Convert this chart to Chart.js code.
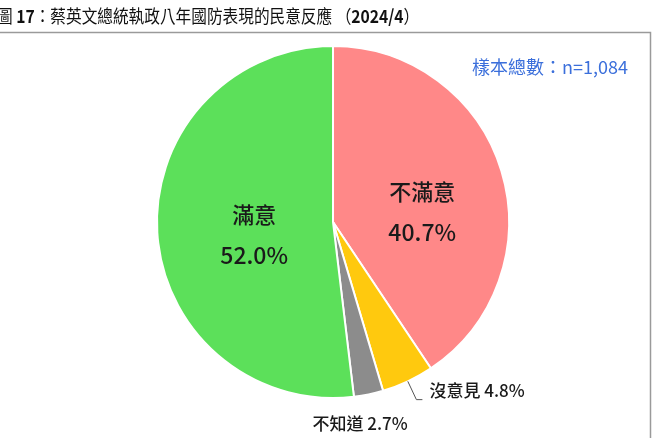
<!DOCTYPE html>
<html><head><meta charset="utf-8">
<script src="https://cdn.jsdelivr.net/npm/chart.js@4.4.0/dist/chart.umd.min.js"></script>
<style>html,body{margin:0;padding:0;background:#fff;}canvas{display:block;}</style>
</head><body>
<canvas id="c" width="656" height="438"></canvas>
<script>
const categories = ['不滿意', '沒意見', '不知道', '滿意'];
const values = [40.7, 4.8, 2.7, 52.0];
const colors = ['#FF8888', '#FFC90E', '#8C8C8C', '#5CE05A'];
const titleParts = [['圖 ', false], ['17', true], ['：蔡英文總統執政八年國防表現的民意反應 （', false], ['2024/4', true], ['）', false]];
const sampleText = '樣本總數：n=1,084';
const FONT = '"Noto Sans CJK TC","Noto Sans",sans-serif';

const decor = {
  id: 'decor',
  beforeDraw(chart) {
    const ctx = chart.ctx;
    ctx.save();
    ctx.fillStyle = '#fff';
    ctx.fillRect(0, 0, chart.width, chart.height);
    ctx.strokeStyle = '#9a9a9a';
    ctx.lineWidth = 1.5;
    ctx.beginPath();
    ctx.moveTo(0, 32.5); ctx.lineTo(650.5, 32.5); ctx.lineTo(650.5, 438);
    ctx.stroke();
    ctx.save();
    ctx.translate(-3, 16);
    ctx.scale(0.87, 1);
    let x = 0;
    ctx.fillStyle = '#111';
    ctx.textBaseline = 'middle';
    for (const [t, b] of titleParts) {
      ctx.font = (b ? 'bold ' : '') + '18px ' + FONT;
      ctx.fillText(t, x, 0);
      x += ctx.measureText(t).width;
    }
    ctx.restore();
    ctx.font = '18px ' + FONT;
    ctx.fillStyle = '#3B6FDB';
    ctx.textAlign = 'right';
    ctx.textBaseline = 'middle';
    ctx.fillText(sampleText, 628, 67);
    ctx.restore();
  },
  afterDraw(chart) {
    const ctx = chart.ctx;
    const meta = chart.getDatasetMeta(0);
    const ds = chart.data.datasets[0];
    ctx.save();
    ctx.fillStyle = '#1a1a1a';
    ctx.textBaseline = 'middle';
    meta.data.forEach((el, i) => {
      const p = el.getProps(['x', 'y', 'startAngle', 'endAngle', 'outerRadius'], true);
      const mid = (p.startAngle + p.endAngle) / 2;
      const r = p.outerRadius;
      const pct = ds.data[i].toFixed(1) + '%';
      const name = chart.data.labels[i];
      if (i === 0 || i === 3) {
        const off = i === 0 ? [5, 15] : [9, 7];
        const bx = p.x + Math.cos(mid) * r * 0.5 + off[0];
        const by = p.y + Math.sin(mid) * r * 0.5 + off[1];
        ctx.textAlign = 'center';
        ctx.font = '500 22px ' + FONT;
        ctx.fillText(name, bx, by - 20);
        ctx.font = '500 23px ' + FONT;
        ctx.fillText(pct, bx, by + 21);
      } else if (i === 1) {
        const sx = p.x + Math.cos(mid) * r, sy = p.y + Math.sin(mid) * r;
        const ex = p.x + Math.cos(mid) * r * 1.115, ey = p.y + Math.sin(mid) * r * 1.115;
        ctx.strokeStyle = '#555';
        ctx.lineWidth = 1;
        ctx.beginPath();
        ctx.moveTo(sx, sy); ctx.lineTo(ex, ey); ctx.lineTo(ex + 6, ey);
        ctx.stroke();
        ctx.textAlign = 'left';
        ctx.font = '500 17px ' + FONT;
        ctx.fillText(name + ' ' + pct, ex + 13, ey - 9);
      } else {
        const bx = p.x + Math.cos(mid) * r * 1.18 - 15;
        const by = p.y + Math.sin(mid) * r * 1.18;
        ctx.textAlign = 'center';
        ctx.font = '500 17px ' + FONT;
        ctx.fillText(name + ' ' + pct, bx, by - 2);
      }
    });
    ctx.restore();
  }
};

new Chart(document.getElementById('c'), {
  type: 'pie',
  data: {
    labels: categories,
    datasets: [{
      data: values,
      backgroundColor: colors,
      borderColor: '#ffffff',
      borderWidth: 2
    }]
  },
  options: {
    responsive: false,
    animation: false,
    devicePixelRatio: 1,
    layout: { padding: { top: 45, bottom: 39, left: 156, right: 146 } },
    plugins: { legend: { display: false }, tooltip: { enabled: false }, title: { display: false } }
  },
  plugins: [decor]
});
</script>
</body></html>
